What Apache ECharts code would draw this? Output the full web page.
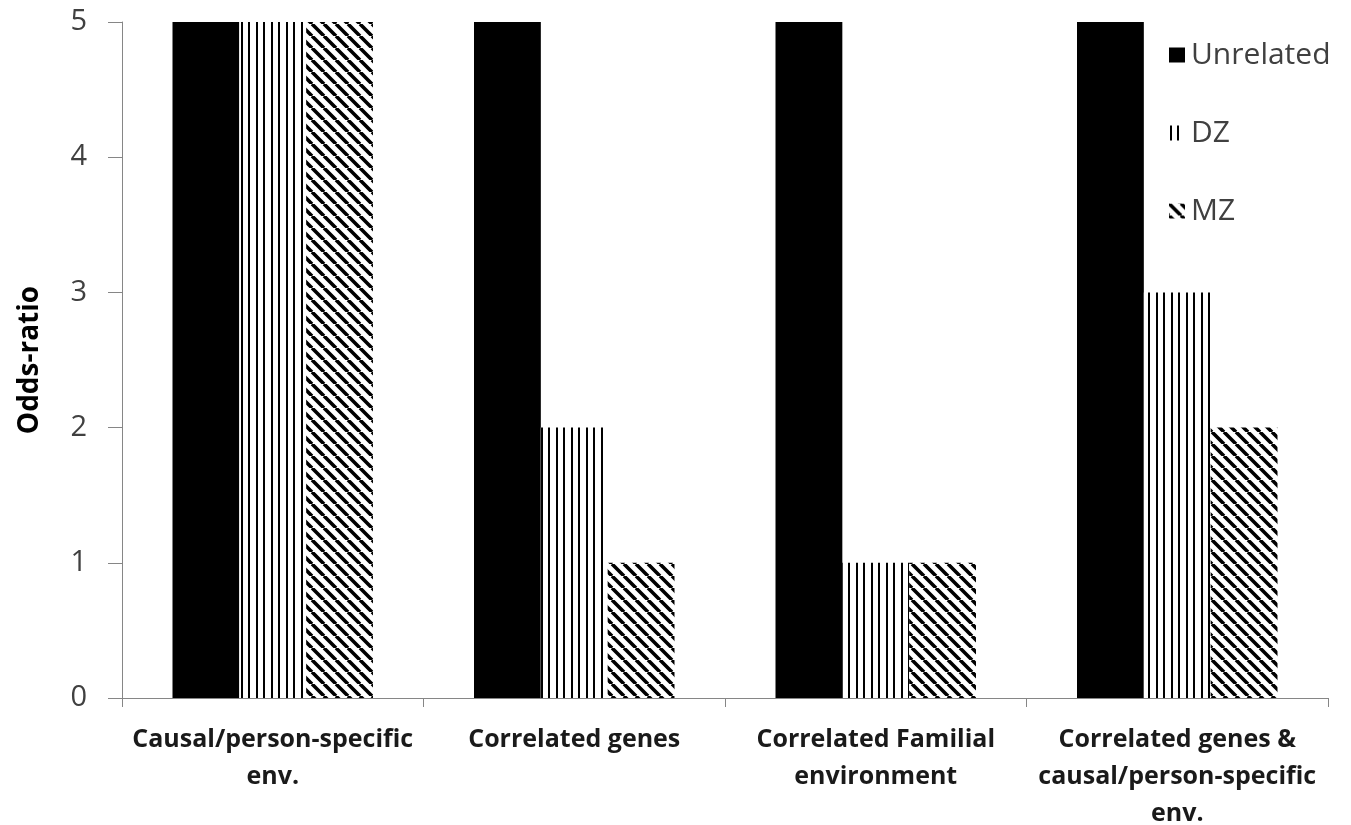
<!DOCTYPE html>
<html>
<head>
<meta charset="utf-8">
<script src="https://cdn.jsdelivr.net/npm/echarts@6/dist/echarts.min.js"></script>
<style>
html,body{margin:0;padding:0;background:#fff;}
#chart{width:1351px;height:825px;}
</style>
</head>
<body>
<div id="chart"></div>
<script>
const categories = [
  'Causal/person-specific\nenv.',
  'Correlated genes',
  'Correlated Familial\nenvironment',
  'Correlated genes &\ncausal/person-specific\nenv.'
];
const seriesNames = ['Unrelated', 'DZ', 'MZ'];
const unrelated = [5, 5, 5, 5];
const dz = [5, 2, 1, 3];
const mz = [5, 1, 1, 2];
const yTicks = [0, 1, 2, 3, 4, 5];

const FONT = '"Open Sans", sans-serif';

// vertical stripe fill
function vStripe() {
  const c = document.createElement('canvas');
  c.width = 15; c.height = 10;
  const g = c.getContext('2d');
  g.fillStyle = '#fff'; g.fillRect(0, 0, c.width, c.height);
  g.fillStyle = '#000';
  g.fillRect(1, 0, 2, c.height);
  g.fillRect(8, 0, 2, c.height);
  return c;
}
// diagonal stripe fill, top-left to bottom-right
function dStripe() {
  const s = 12;
  const c = document.createElement('canvas');
  c.width = s; c.height = s;
  const g = c.getContext('2d');
  g.fillStyle = '#fff'; g.fillRect(0, 0, s, s);
  g.strokeStyle = '#000'; g.lineWidth = 3.6;
  g.beginPath();
  for (let k = -2; k <= 2; k++) {
    g.moveTo(k * s, 0); g.lineTo(k * s + s, s);
  }
  g.stroke();
  return c;
}

const fills = [
  '#000',
  { image: vStripe(), repeat: 'repeat' },
  { image: dStripe(), repeat: 'repeat' }
];
const values = [unrelated, dz, mz];

const chart = echarts.init(document.getElementById('chart'));
chart.setOption({
  animation: false,
  textStyle: { fontFamily: FONT },
  grid: { left: 122, right: 23, top: 22, bottom: 127, containLabel: false, outerBoundsMode: 'none' },
  legend: {
    orient: 'vertical',
    left: 1164, top: 35,
    itemGap: 48,
    itemWidth: 16, itemHeight: 15,
    icon: 'rect',
    textStyle: { fontSize: 30, color: '#404040', fontFamily: FONT, padding: [0, 0, 0, 1] },
    data: seriesNames
  },
  xAxis: {
    type: 'category',
    data: categories,
    axisLine: { lineStyle: { color: '#868686', width: 1 } },
    axisTick: { show: true, length: 9, lineStyle: { color: '#868686' } },
    axisLabel: {
      interval: 0, margin: 23,
      fontSize: 25, fontWeight: 'bold', color: '#1a1a1a',
      lineHeight: 37, fontFamily: FONT
    }
  },
  yAxis: {
    type: 'value',
    min: 0, max: 5, interval: 1,
    name: 'Odds-ratio',
    nameLocation: 'middle',
    nameGap: 78,
    nameTextStyle: { fontSize: 28, fontWeight: 'bold', color: '#000', fontFamily: FONT },
    axisLine: { show: true, lineStyle: { color: '#868686' } },
    axisTick: { show: true, length: 14, lineStyle: { color: '#868686' } },
    splitLine: { show: false },
    axisLabel: {
      margin: 35, fontSize: 29, color: '#404040', fontFamily: FONT,
      formatter: v => yTicks.includes(v) ? String(v) : ''
    }
  },
  series: seriesNames.map((n, i) => ({
    name: n,
    type: 'bar',
    data: values[i],
    barGap: '0%',
    barCategoryGap: '33.5%',
    itemStyle: { color: fills[i] }
  }))
});
</script>
</body>
</html>
